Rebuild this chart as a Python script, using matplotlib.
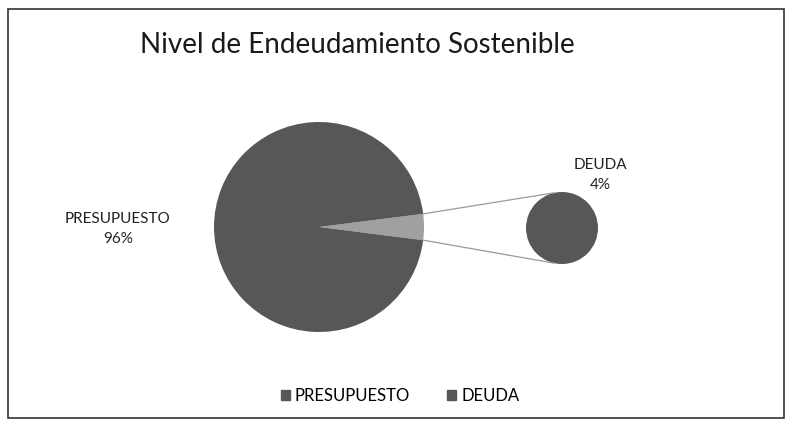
import numpy as np
import matplotlib.pyplot as plt
from matplotlib.patches import Rectangle
from matplotlib.lines import Line2D

categorias = ['PRESUPUESTO', 'DEUDA']
valores = [96, 4]
titulo = 'Nivel de Endeudamiento Sostenible'

W, H = 792, 426
c_main = (319, H - 227)
r_main = 105
c_small = (562, H - 228)
r_small = 36
oscuro = '#575757'
claro = '#a0a0a0'

plt.rcParams['font.family'] = ['Lato', 'DejaVu Sans']

fig = plt.figure(figsize=(W / 100, H / 100), dpi=100)
ax = fig.add_axes([0, 0, 1, 1])

# marco del grafico
ax.add_patch(Rectangle((8, 8), W - 16, H - 17, fill=False, ec='#333333', lw=1.2))

# pie principal: deuda centrada en 0 grados
total = sum(valores)
ang = 360 * valores[1] / total
ax.pie([valores[1], valores[0]], colors=[claro, oscuro], startangle=-ang / 2,
       center=c_main, radius=r_main, frame=True,
       wedgeprops=dict(linewidth=0))
# pie secundario
ax.pie([valores[1]], colors=[oscuro], center=c_small, radius=r_small, frame=True,
       wedgeprops=dict(linewidth=0))
ax.set_xlim(0, W)
ax.set_ylim(0, H)
ax.set_aspect('equal')
ax.axis('off')

# lineas de conexion
for s in (1, -1):
    a = np.deg2rad(s * ang / 2)
    p0 = (c_main[0] + r_main * np.cos(a), c_main[1] + r_main * np.sin(a))
    b = np.deg2rad(s * 102)
    p1 = (c_small[0] + r_small * np.cos(b), c_small[1] + r_small * np.sin(b))
    ax.add_line(Line2D([p0[0], p1[0]], [p0[1], p1[1]], color='#9a9a9a', lw=0.9))

ax.text(357, H - 45, titulo, ha='center', va='center', fontsize=20, color='#1a1a1a')
ax.text(118, H - 229, '%s\n%d%%' % (categorias[0], valores[0]), ha='center', va='center',
        fontsize=11, color='#222222', linespacing=1.6)
ax.text(600, H - 175, '%s\n%d%%' % (categorias[1], valores[1]), ha='center', va='center',
        fontsize=11, color='#222222', linespacing=1.6)

handles = [Rectangle((0, 0), 1, 1, color=oscuro) for _ in categorias]
fig.legend(handles, categorias, loc='center', bbox_to_anchor=(400 / W, 1 - 396 / H),
           ncol=2, frameon=False, fontsize=12, handlelength=0.55, handleheight=0.55,
           handletextpad=0.3, columnspacing=2.2)

fig.savefig('out.png', dpi=100, facecolor='white')
